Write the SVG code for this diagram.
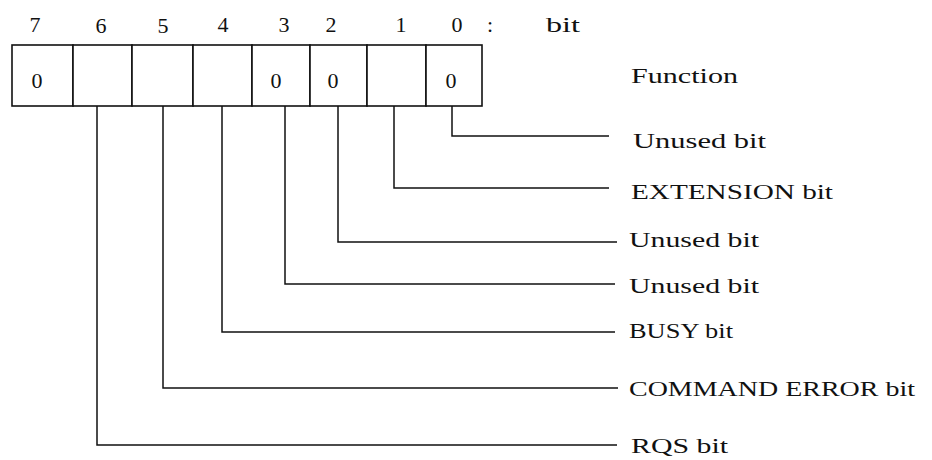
<svg xmlns="http://www.w3.org/2000/svg" width="932" height="460" viewBox="0 0 932 460">
<style>
.t{font-family:"Liberation Serif","DejaVu Serif",serif;fill:#111;}
.d{font-size:22px;text-anchor:middle;}
.l{font-size:20px;}
.cell{fill:#fff;stroke:#111;stroke-width:1.6;}
.c{fill:none;stroke:#111;stroke-width:1.5;}
</style>
<rect width="932" height="460" fill="#fff"/>
<g id="bitnumbers">
<text class="t d" x="35" y="32">7</text>
<text class="t d" x="101" y="33">6</text>
<text class="t d" x="163" y="33">5</text>
<text class="t d" x="223" y="32">4</text>
<text class="t d" x="284" y="32">3</text>
<text class="t d" x="331" y="32">2</text>
<text class="t d" x="401" y="32">1</text>
<text class="t d" x="457" y="32">0</text>
<text class="t d" x="490" y="32">:</text>
<text class="t l" x="546" y="32" textLength="34" lengthAdjust="spacingAndGlyphs">bit</text>
</g>
<g id="register">
<rect class="cell" x="12" y="45" width="61" height="61"/>
<rect class="cell" x="73" y="45" width="59" height="61"/>
<rect class="cell" x="132" y="45" width="61" height="61"/>
<rect class="cell" x="193" y="45" width="59" height="61"/>
<rect class="cell" x="252" y="45" width="58" height="61"/>
<rect class="cell" x="310" y="45" width="57" height="61"/>
<rect class="cell" x="367" y="45" width="59" height="61"/>
<rect class="cell" x="426" y="45" width="56" height="61"/>
<text class="t d" x="37" y="88">0</text>
<text class="t d" x="276" y="88">0</text>
<text class="t d" x="333" y="88">0</text>
<text class="t d" x="451" y="88">0</text>
</g>
<g id="header">
<text class="t l" x="631" y="83" textLength="107" lengthAdjust="spacingAndGlyphs">Function</text>
</g>
<g id="connectors">
<polyline class="c" points="452,106 452,136 609,136"/>
<polyline class="c" points="394,106 394,188 609,188"/>
<polyline class="c" points="338,106 338,242 617,242"/>
<polyline class="c" points="285,106 285,284 615,284"/>
<polyline class="c" points="222,106 222,332 615,332"/>
<polyline class="c" points="163,106 163,388 618,388"/>
<polyline class="c" points="97,106 97,445 617,445"/>
</g>
<g id="label-bit0"><text class="t l" x="633" y="148" textLength="133" lengthAdjust="spacingAndGlyphs">Unused bit</text></g>
<g id="label-bit1"><text class="t l" x="631" y="199" textLength="202" lengthAdjust="spacingAndGlyphs">EXTENSION bit</text></g>
<g id="label-bit2"><text class="t l" x="629" y="247" textLength="130" lengthAdjust="spacingAndGlyphs">Unused bit</text></g>
<g id="label-bit3"><text class="t l" x="629" y="293" textLength="130" lengthAdjust="spacingAndGlyphs">Unused bit</text></g>
<g id="label-bit4"><text class="t l" x="629" y="338" textLength="104" lengthAdjust="spacingAndGlyphs">BUSY bit</text></g>
<g id="label-bit5"><text class="t l" x="629" y="396" textLength="286" lengthAdjust="spacingAndGlyphs">COMMAND ERROR bit</text></g>
<g id="label-bit6"><text class="t l" x="631" y="453" textLength="97" lengthAdjust="spacingAndGlyphs">RQS bit</text></g>
</svg>
